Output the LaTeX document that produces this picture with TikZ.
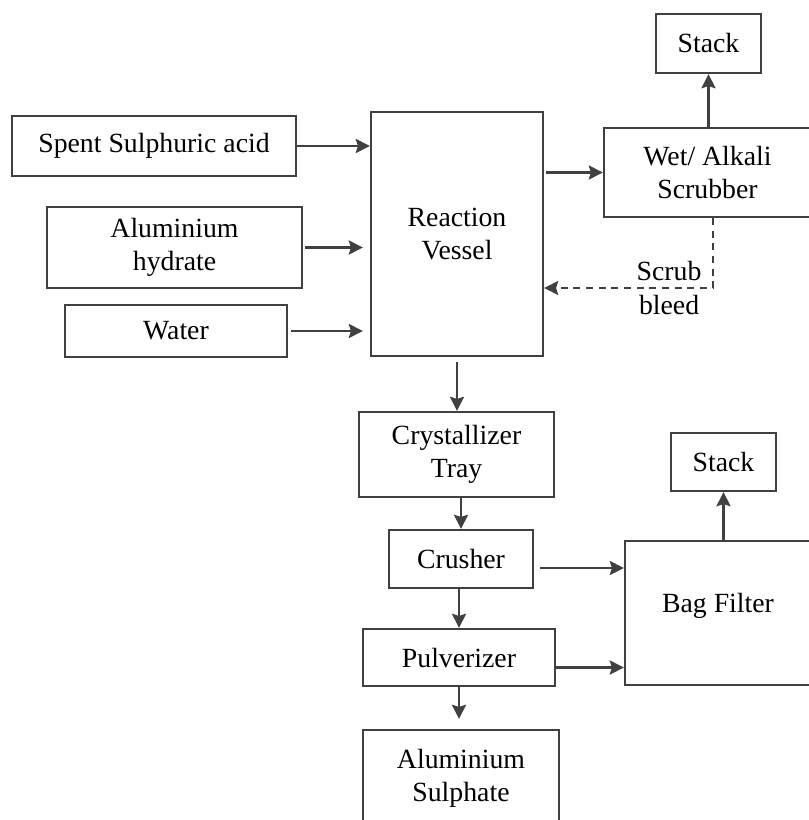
\documentclass[tikz,border=0pt]{standalone}
\usepackage{fontspec}
\setmainfont{Liberation Serif}
\usetikzlibrary{arrows.meta}

\tikzset{
  unit/.style={draw=black!75, line width=0.65pt, fill=white, align=center, inner sep=1pt},
  flow/.style={->, draw=black!75, line width=0.7pt},
  bleedline/.style={->, draw=black!75, line width=0.7pt, dash pattern=on 2pt off 1.6pt}
}

\begin{document}
\begin{tikzpicture}[>={Stealth[length=4pt,width=4pt,inset=0.6pt]},
  font=\fontsize{7.9}{9.4}\selectfont]
  \useasboundingbox (0,0) rectangle (8.09,-8.20);

  % Feeds
  \node[unit, minimum width=2.84cm, minimum height=0.60cm] (spent) at (1.54,-1.46) {Spent Sulphuric acid};
  \node[unit, minimum width=2.55cm, minimum height=0.81cm] (hydrate) at (1.745,-2.475) {Aluminium\\hydrate};
  \node[unit, minimum width=2.22cm, minimum height=0.52cm] (water) at (1.76,-3.31) {Water};

  % Reaction and scrubbing
  \node[unit, minimum width=1.72cm, minimum height=2.44cm] (vessel) at (4.57,-2.34) {Reaction\\Vessel};
  \node[unit, minimum width=2.07cm, minimum height=0.89cm] (scrubber) at (7.075,-1.725) {Wet/ Alkali\\Scrubber};
  \node[unit, minimum width=1.05cm, minimum height=0.59cm] (stacka) at (7.085,-0.435) {Stack};

  % Solids line
  \node[unit, minimum width=1.95cm, minimum height=0.85cm] (crystal) at (4.565,-4.545) {Crystallizer\\Tray};
  \node[unit, minimum width=1.44cm, minimum height=0.58cm] (crusher) at (4.61,-5.59) {Crusher};
  \node[unit, minimum width=1.92cm, minimum height=0.57cm] (pulverizer) at (4.59,-6.575) {Pulverizer};
  \node[unit, minimum width=1.96cm, minimum height=0.96cm] (product) at (4.61,-7.78) {Aluminium\\Sulphate};

  % Dust
  \node[unit, minimum width=1.86cm, minimum height=1.44cm, text depth=0.2cm] (bagfilter) at (7.18,-6.13) {Bag Filter};
  \node[unit, minimum width=1.05cm, minimum height=0.58cm] (stackb) at (7.235,-4.62) {Stack};

  % Feed arrows
  \draw[flow] (spent.east) -- (spent.east -| vessel.west);
  \draw[flow, shorten <=0.02cm, shorten >=0.07cm] (hydrate.east) -- (hydrate.east -| vessel.west);
  \draw[flow, shorten <=0.03cm, shorten >=0.07cm] (water.east) -- (water.east -| vessel.west);

  % Off-gas
  \draw[flow, shorten <=0.02cm] (vessel.east |- scrubber.west) -- (scrubber.west);
  \draw[flow] (stacka.south |- scrubber.north) -- (stacka.south);
  \coordinate (bend) at (7.13,-2.88);
  \draw[bleedline] (scrubber.south -| bend) -- (bend) -- (bend -| vessel.east)
    node[pos=0.26, align=center] (bleedlabel) {Scrub\\bleed};

  % Solids
  \draw[flow, shorten <=0.05cm] (vessel.south) -- (vessel.south |- crystal.north);
  \draw[flow] (crusher.north |- crystal.south) -- (crusher.north);
  \draw[flow] (pulverizer.north |- crusher.south) -- (pulverizer.north);
  \draw[flow, shorten >=0.1cm] (pulverizer.south) -- (pulverizer.south |- product.north);

  % To bag filter
  \draw[flow, shorten <=0.06cm] ([yshift=-0.09cm]crusher.east) -- ([yshift=-0.09cm]crusher.east -| bagfilter.west);
  \draw[flow] ([yshift=-0.1cm]pulverizer.east) -- ([yshift=-0.1cm]pulverizer.east -| bagfilter.west);
  \draw[flow] (bagfilter.north -| stackb.south) -- (stackb.south);
\end{tikzpicture}
\end{document}
